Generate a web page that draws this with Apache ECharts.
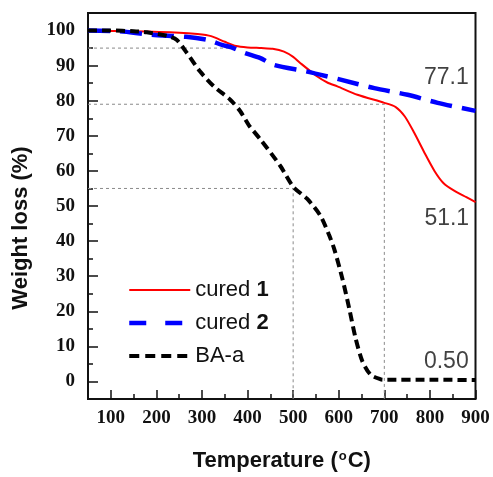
<!DOCTYPE html>
<html>
<head>
<meta charset="utf-8">
<script src="https://cdn.jsdelivr.net/npm/echarts@6/dist/echarts.min.js"></script>
<style>html,body{margin:0;padding:0;background:#fff}#c{width:493px;height:477px}</style>
</head>
<body>
<div id="c"></div>
<script>
// ---- data ----
const seriesNames = ['cured 1', 'cured 2', 'BA-a'];
const cured1 = [[50,100],[150,99.8],[250,99.4],[290,99],[320,98.4],[350,96.8],[375,95.6],[400,95.2],[430,95],[455,94.8],[480,94],[500,92.5],[516,90.7],[553,86.9],[575,85.2],[597,84.1],[641,81.7],[700,79.4],[725,78.2],[745,75.5],[765,71],[788,65.2],[810,60],[830,56.5],[854,54.3],[880,52.5],[900,51.1]];
const cured2 = [[50,100],[120,99.8],[190,98.8],[265,98.2],[313,97.3],[344,95.9],[365,95.2],[394,93.6],[427,92.2],[458,90.2],[531,88.3],[604,86],[678,83.6],[751,81.7],[817,79.4],[900,77.1]];
const baA = [[50,100],[100,100],[150,99.8],[179,99.5],[223,98.5],[245,97.3],[267,93.6],[296,88.3],[326,84.1],[362,80.3],[384,77],[403,73],[428,69],[472,61.4],[500,55.5],[531,52],[560,47.2],[578,42],[590,37.8],[608,29.3],[623,20.8],[637,12.3],[652,5.7],[670,1.9],[692,0.6],[700,0.5],[800,0.5],[900,0.4]];
const refLine95 = [[50,95],[362,95]];
const refLine79 = [[50,79],[700,79],[700,-5]];
const refLine55 = [[50,55],[500,55],[500,-5]];
const annotText = ['77.1', '51.1', '0.50'];
const annotX = [836, 837, 836];
const annotY = [86.7, 46.3, 5.6];
const xTicks = [100,200,300,400,500,600,700,800,900];
const xMinorTicks = [150,250,350,450,550,650,750,850];
const yTicks = [0,10,20,30,40,50,60,70,80,90,100];
const yMinorTicks = [5,15,25,35,45,55,65,75,85,95];
const xRange = [50, 900];
const yRange = [-5, 105];

// ---- chart ----
const chart = echarts.init(document.getElementById('c'), null, {renderer: 'canvas'});
const tickFont = {fontFamily: 'Liberation Serif', fontWeight: 'bold', fontSize: 19, color: '#111'};
const titleFont = {fontFamily: 'Liberation Sans', fontWeight: 'bold', fontSize: 22, color: '#111'};
const refStyle = {color: '#8a8a8a', width: 1, type: [3, 3]};
const noSym = {color: 'transparent', borderColor: 'transparent', borderWidth: 0, opacity: 0};
const seriesColors = ['#ff0000', '#0000ff', '#000000'];
const plotLineStyles = [
  {color: seriesColors[0], width: 2, type: 'solid'},
  {color: seriesColors[1], width: 4.5, type: [22, 10]},
  {color: seriesColors[2], width: 4, type: [9, 5]}
];
const legendLineStyles = [
  {color: seriesColors[0], width: 2, type: 'solid'},
  {color: seriesColors[1], width: 4.5, type: [17, 19]},
  {color: seriesColors[2], width: 4, type: [10, 6]}
];
const seriesData = [cured1, cured2, baA];

function refSeries(d) {
  return {type: 'line', data: d, symbol: 'none', silent: true, lineStyle: refStyle, z: 1, xAxisIndex: 0, yAxisIndex: 0};
}

// legend-key series (first series with each name supplies the legend icon)
const legendKeySeries = seriesNames.map((n, i) => ({
  name: n, type: 'line', data: [], symbol: 'none', silent: true,
  lineStyle: legendLineStyles[i], itemStyle: {color: seriesColors[i]}
}));
const dataSeries = seriesNames.map((n, i) => ({
  name: n, type: 'line', data: seriesData[i], symbol: 'none', smooth: 0.25, z: 3 + i,
  lineStyle: plotLineStyles[i], itemStyle: {color: seriesColors[i]}
}));

const option = {
  animation: false,
  backgroundColor: '#fff',
  grid: {left: 88, top: 13, width: 387.5, height: 388, show: true, borderColor: '#111', borderWidth: 2, backgroundColor: 'transparent', containLabel: false},
  legend: {
    orient: 'vertical', left: 122, top: 274, itemWidth: 61, itemHeight: 22, itemGap: 11,
    data: seriesNames.map(n => ({name: n, itemStyle: noSym})),
    lineStyle: {width: 'inherit'},
    formatter: s => s.replace(/ (\d)$/, ' {b|$1}'),
    textStyle: {fontFamily: 'Liberation Sans', fontSize: 22, color: '#111', lineHeight: 22,
      rich: {b: {fontFamily: 'Liberation Sans', fontSize: 22, fontWeight: 'bold', color: '#111'}}}
  },
  xAxis: [{
    type: 'value', min: xRange[0], max: xRange[1], position: 'bottom',
    name: 'Temperature ({sup|o}C)', nameLocation: 'middle', nameGap: 51,
    nameTextStyle: Object.assign({}, titleFont, {rich: {sup: {fontFamily: 'Liberation Sans', fontSize: 13, verticalAlign: 'top', color: '#111', padding: [0, 1, 8, 1]}}}),
    axisLine: {show: false, onZero: false},
    axisTick: {show: true, inside: true, length: 9, lineStyle: {color: '#111', width: 1.5}, customValues: xTicks},
    axisLabel: {show: true, margin: 10, customValues: xTicks, ...tickFont},
    splitLine: {show: false}
  }, {
    type: 'value', min: xRange[0], max: xRange[1], position: 'bottom',
    axisLine: {show: false, onZero: false},
    axisTick: {show: true, inside: true, length: 5, lineStyle: {color: '#111', width: 1.5}, customValues: xMinorTicks},
    axisLabel: {show: false},
    splitLine: {show: false}
  }],
  yAxis: [{
    type: 'value', min: yRange[0], max: yRange[1], position: 'left',
    name: 'Weight loss (%)', nameLocation: 'middle', nameGap: 56, nameRotate: 90,
    nameTextStyle: Object.assign({}, titleFont, {padding: [0, 44, 0, 0]}),
    axisLine: {show: false, onZero: false},
    axisTick: {show: true, inside: true, length: 10, lineStyle: {color: '#111', width: 1.5}, customValues: yTicks},
    axisLabel: {show: true, margin: 13, customValues: yTicks, ...tickFont},
    splitLine: {show: false}
  }, {
    type: 'value', min: yRange[0], max: yRange[1], position: 'left',
    axisLine: {show: false, onZero: false},
    axisTick: {show: true, inside: true, length: 5, lineStyle: {color: '#111', width: 1.5}, customValues: yMinorTicks},
    axisLabel: {show: false},
    splitLine: {show: false}
  }],
  series: [].concat(
    legendKeySeries,
    [refSeries(refLine95), refSeries(refLine79), refSeries(refLine55)],
    dataSeries,
    [{type: 'scatter', silent: true, symbolSize: 1, itemStyle: {color: 'transparent'}, z: 6,
      data: annotText.map((t, i) => ({name: t, value: [annotX[i], annotY[i]]})),
      label: {show: true, position: 'inside', formatter: p => p.name, fontFamily: 'Liberation Sans', fontSize: 23, color: '#111'}}]
  )
};
chart.setOption(option);
</script>
</body>
</html>
